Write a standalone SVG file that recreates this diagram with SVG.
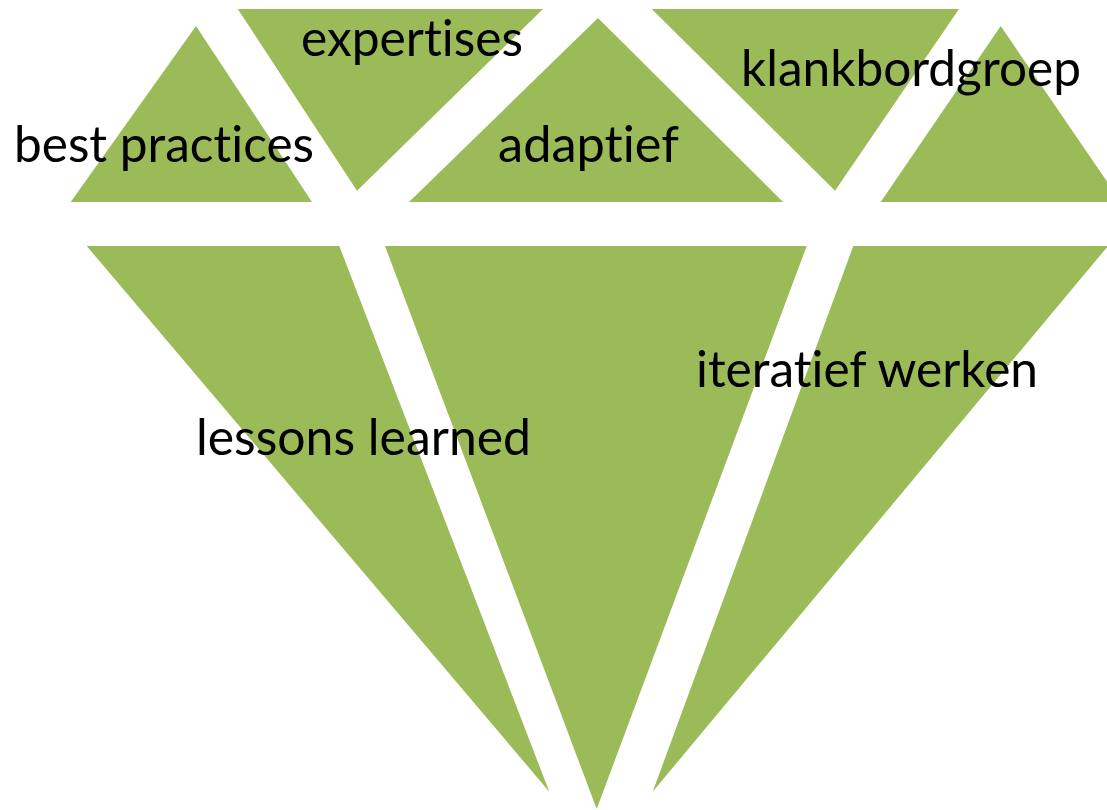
<svg xmlns="http://www.w3.org/2000/svg" width="1107" height="810" viewBox="0 0 1107 810">
  <style>
    .facet { fill: #9BBB59; }
    .label { font-family: Lato, "Open Sans", "Liberation Sans", sans-serif; font-size: 51px; fill: #000000; font-variant-ligatures: none; font-feature-settings: "liga" 0, "clig" 0; }
  </style>
  <rect x="0" y="0" width="1107" height="810" fill="#FFFFFF"/>
  <g id="facet-top-right">
    <polygon class="facet" points="1000.7,26 880.7,202 1121,202"/>
  </g>
  <g id="facet-bottom-middle">
    <polygon class="facet" points="385,246 806.7,246 596.7,809"/>
  </g>
  <g id="node-best-practices">
    <polygon class="facet" points="196,26 70.7,202 312,202"/>
    <text class="label" x="14" y="162" textLength="300" lengthAdjust="spacingAndGlyphs">best practices</text>
  </g>
  <g id="node-expertises">
    <polygon class="facet" points="237.7,9 543,9 357,190.7"/>
    <text class="label" x="301" y="56" textLength="222" lengthAdjust="spacingAndGlyphs">expertises</text>
  </g>
  <g id="node-adaptief">
    <polygon class="facet" points="598,18 409,202 783,202"/>
    <text class="label" x="498" y="162" textLength="181" lengthAdjust="spacingAndGlyphs">adaptief</text>
  </g>
  <g id="node-klankbordgroep">
    <polygon class="facet" points="651.7,9 959,9 835,190.7"/>
    <text class="label" x="741" y="86" textLength="340" lengthAdjust="spacingAndGlyphs">klankbordgroep</text>
  </g>
  <g id="node-lessons-learned">
    <polygon class="facet" points="86.7,246 339.3,246 549.3,791.7"/>
    <text class="label" x="196" y="455" textLength="335" lengthAdjust="spacingAndGlyphs">lessons learned</text>
  </g>
  <g id="node-iteratief-werken">
    <polygon class="facet" points="853.3,246 1108,246 652.7,791.7"/>
    <text class="label" x="696" y="387" textLength="342" lengthAdjust="spacingAndGlyphs">iteratief werken</text>
  </g>
  <g id="connectors"/>
</svg>
